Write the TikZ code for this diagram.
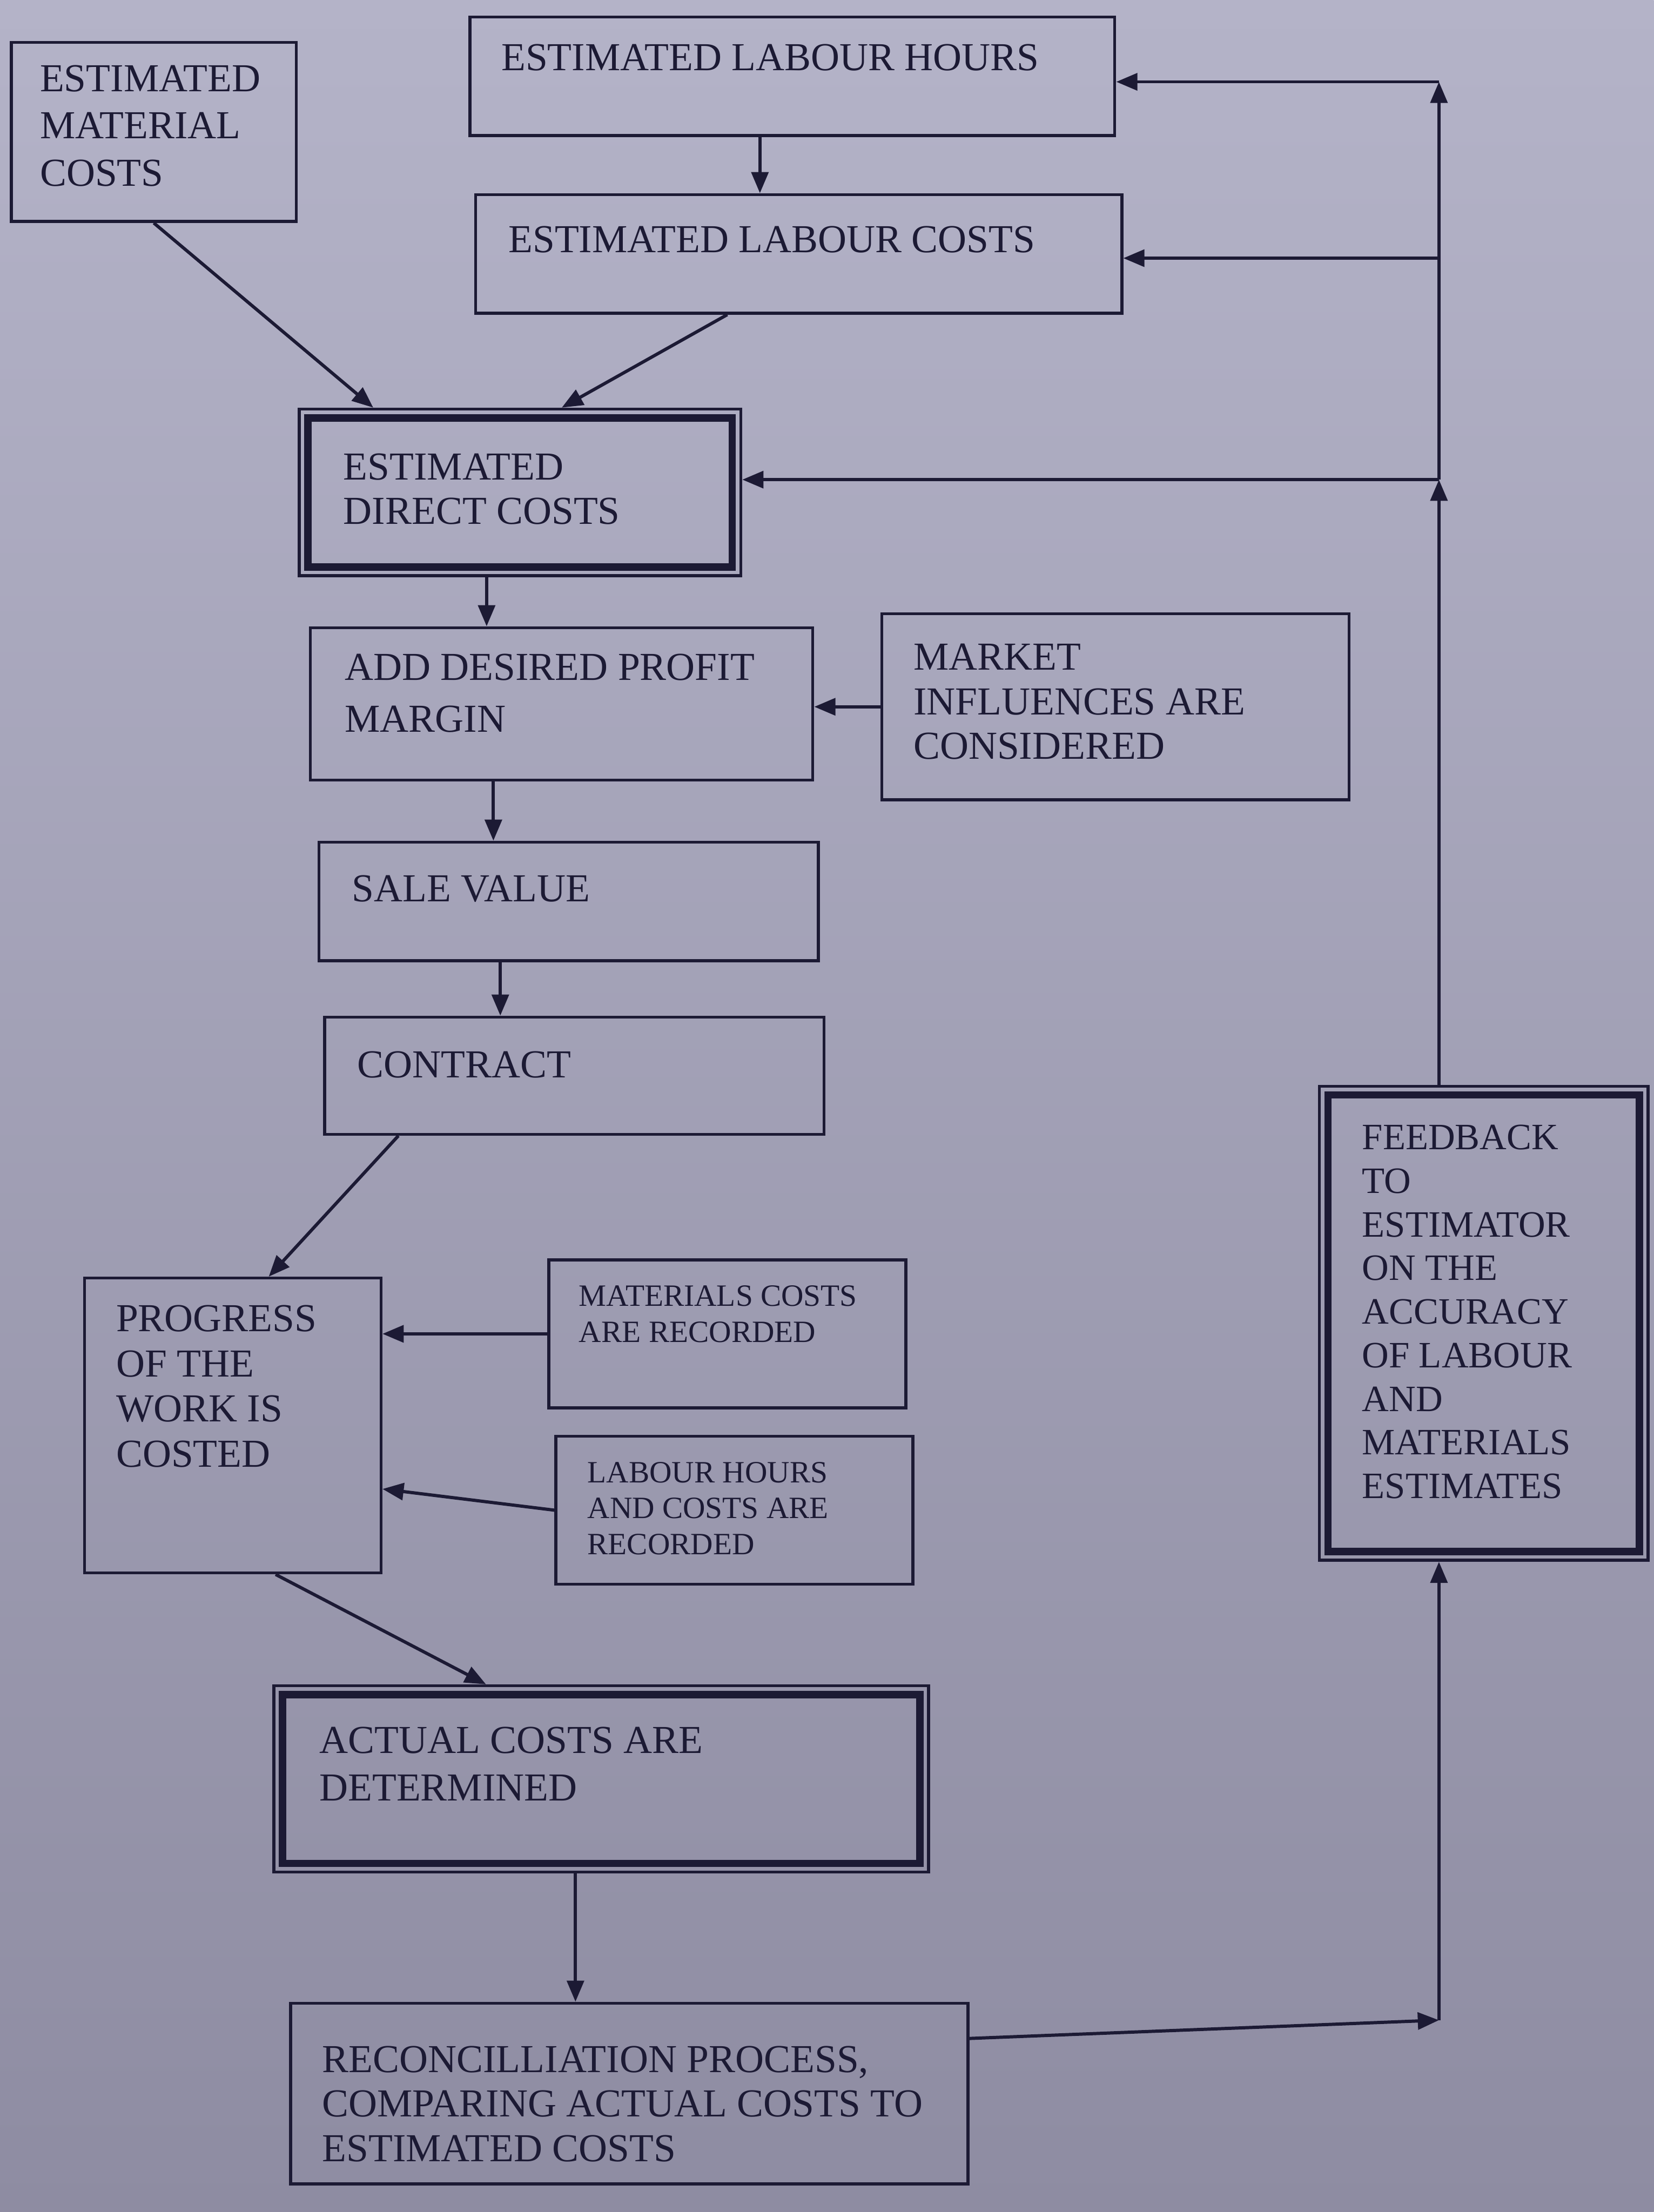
\documentclass[tikz,border=0pt]{standalone}
\usepackage{fontspec}
\setmainfont{Liberation Serif}
\usetikzlibrary{arrows.meta,calc}
\definecolor{ink}{RGB}{28,26,52}
\definecolor{bgtop}{RGB}{180,179,200}
\definecolor{bgbot}{RGB}{142,140,162}
\tikzset{
  box/.style={draw=ink, line width=1.2pt, rectangle, inner sep=0pt},
  txt/.style={text=ink, anchor=north west, inner sep=0pt, align=left, font=\fontsize{16}{18}\selectfont},
  smalltxt/.style={font=\fontsize{12.5}{14.5}\selectfont},
  arr/.style={draw=ink, line width=1.3pt, -{Triangle[length=0.3cm,width=0.24cm]}},
  ln/.style={draw=ink, line width=1.3pt},
}
\newcommand\mkbox[5]{%
  \pgfmathsetmacro\bw{(#4-#2)*0.02}\pgfmathsetmacro\bh{(#5-#3)*0.02}%
  \node[box,minimum width=\bw cm,minimum height=\bh cm] (#1) at ({(#2+#4)/2},{(#3+#5)/2}) {};}
\newcommand\thickin[1]{\draw[ink,line width=3pt] ([shift={(4.1pt,-4.1pt)}]#1.north west) rectangle ([shift={(-4.1pt,4.1pt)}]#1.south east);}
\begin{document}
\begin{tikzpicture}[x=0.02cm,y=-0.02cm]
\shade[top color=bgtop,bottom color=bgbot] (0,0) rectangle (1172,1568);
\useasboundingbox (0,0) rectangle (1172,1568);

% boxes
\mkbox{mat}{8}{30}{210}{157}
\mkbox{hours}{333}{12}{790}{96}
\mkbox{lcost}{337}{138}{795}{222}
\mkbox{direct}{212}{290}{525}{408}
\thickin{direct}
\mkbox{profit}{220}{445}{576}{553}
\mkbox{market}{625}{435}{956}{567}
\mkbox{sale}{226}{597}{580}{681}
\mkbox{contract}{230}{721}{584}{804}
\mkbox{progress}{60}{906}{270}{1115}
\mkbox{matrec}{389}{893}{642}{998}
\mkbox{labrec}{394}{1018}{647}{1123}
\mkbox{actual}{194}{1195}{658}{1327}
\thickin{actual}
\mkbox{recon}{206}{1420}{686}{1548}
\mkbox{fb}{935}{770}{1168}{1106}
\thickin{fb}

% texts
\node[txt,font=\fontsize{16}{19}\selectfont] (mat-t) at (28,46) {ESTIMATED\\MATERIAL\\COSTS};
\node[txt] (hours-t) at (355,31) {ESTIMATED LABOUR HOURS};
\node[txt] (lcost-t) at (360,160) {ESTIMATED LABOUR COSTS};
\node[txt] (direct-t) at (243,321) {ESTIMATED\\DIRECT COSTS};
\node[txt,font=\fontsize{16}{21}\selectfont] (profit-t) at (244,463) {ADD DESIRED PROFIT\\MARGIN};
\node[txt] (market-t) at (647,456) {MARKET\\INFLUENCES ARE\\CONSIDERED};
\node[txt] (sale-t) at (249,620) {SALE VALUE};
\node[txt] (contract-t) at (253,745) {CONTRACT};
\node[txt,font=\fontsize{16}{18.2}\selectfont] (progress-t) at (82,925) {PROGRESS\\OF THE\\WORK IS\\COSTED};
\node[txt,smalltxt] (matrec-t) at (410,911) {MATERIALS COSTS\\ARE RECORDED};
\node[txt,smalltxt] (labrec-t) at (416,1036) {LABOUR HOURS\\AND COSTS ARE\\RECORDED};
\node[txt,font=\fontsize{16}{19}\selectfont] (actual-t) at (226,1224) {ACTUAL COSTS ARE\\DETERMINED};
\node[txt] (recon-t) at (228,1450) {RECONCILLIATION PROCESS,\\COMPARING ACTUAL COSTS TO\\ESTIMATED COSTS};
\node[txt,font=\fontsize{15}{17.6}\selectfont] (fb-t) at (965,797) {FEEDBACK\\TO\\ESTIMATOR\\ON THE\\ACCURACY\\OF LABOUR\\AND\\MATERIALS\\ESTIMATES};

% connectors
\draw[arr] ($(hours.south west)!0.45!(hours.south east)$) coordinate (h1) -- (h1 |- lcost.north);
\draw[arr] (mat.south) -- ($(direct.north west)!0.17!(direct.north east)$);
\draw[arr] ($(lcost.south west)!0.39!(lcost.south east)$) -- ($(direct.north west)!0.594!(direct.north east)$);
\draw[arr] ($(direct.south west)!0.425!(direct.south east)$) coordinate (d1) -- (d1 |- profit.north);
\draw[arr] (market.west) -- (market.west -| profit.east);
\draw[arr] ($(profit.south west)!0.365!(profit.south east)$) coordinate (p1) -- (p1 |- sale.north);
\draw[arr] ($(sale.south west)!0.364!(sale.south east)$) coordinate (s1) -- (s1 |- contract.north);
\draw[arr] ($(contract.south west)!0.15!(contract.south east)$) -- ($(progress.north west)!0.62!(progress.north east)$);
\draw[arr] (matrec.west) -- (matrec.west -| progress.east);
\draw[arr] (labrec.west) -- ($(progress.north east)!0.713!(progress.south east)$);
\draw[arr] ($(progress.south west)!0.643!(progress.south east)$) -- ($(actual.north west)!0.325!(actual.north east)$);
\draw[arr] ($(actual.south west)!0.461!(actual.south east)$) coordinate (a1) -- (a1 |- recon.north);

% feedback loop
\coordinate (fbs) at ($(fb.south west)!0.365!(fb.south east)$);
\coordinate (c1) at (fbs |- 0,1432);
\draw[arr] ($(recon.north east)!0.2!(recon.south east)$) -- (c1);
\draw[arr] (c1) -- (fbs);
\coordinate (fbn) at ($(fb.north west)!0.365!(fb.north east)$);
\coordinate (c2) at (fbn |- 0,340);
\coordinate (c3) at (fbn |- 0,58);
\coordinate (c4) at (fbn |- 0,183);
\draw[arr] (fbn) -- (c2);
\draw[arr] (c2) -- (c3);
\draw[arr] (c3) -- (c3 -| hours.east);
\draw[arr] (c4) -- (c4 -| lcost.east);
\draw[arr] (c2) -- (c2 -| direct.east);
\end{tikzpicture}
\end{document}
